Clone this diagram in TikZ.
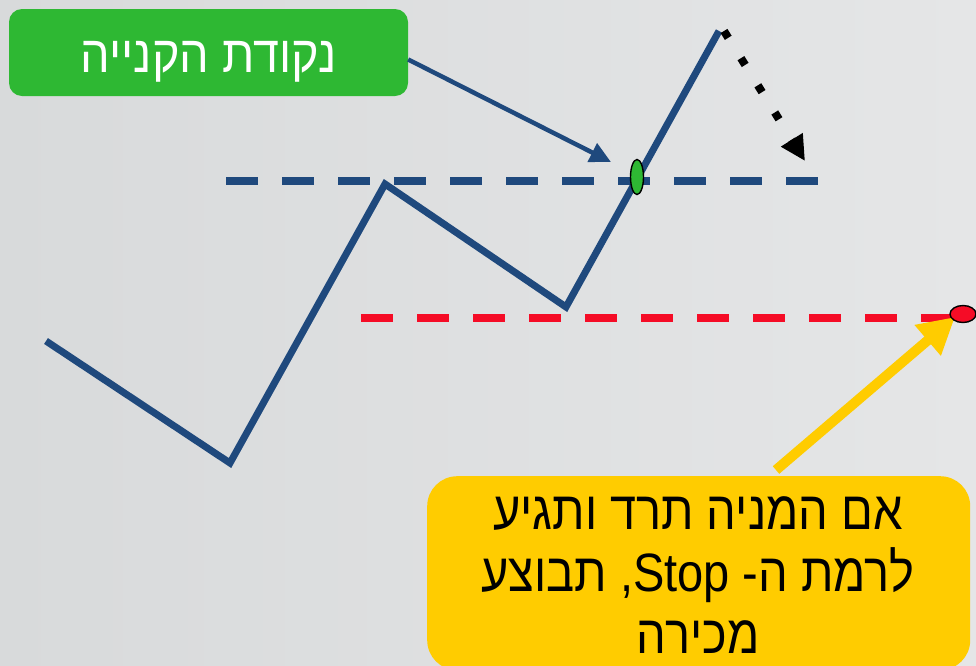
\documentclass[tikz,border=0pt]{standalone}
\usepackage{fontspec}
\usetikzlibrary{arrows.meta,shapes.geometric}
\TeXXeTstate=1
\newfontfamily\heb[Script=Hebrew,FakeStretch=0.9]{Liberation Sans}
\newfontfamily\hebn[Script=Hebrew,FakeStretch=0.87]{Liberation Sans}
\definecolor{bgleft}{RGB}{216,218,219}
\definecolor{bgright}{RGB}{229,230,231}
\definecolor{greenc}{RGB}{46,184,51}
\definecolor{bluec}{RGB}{31,73,125}
\definecolor{redc}{RGB}{245,12,38}
\definecolor{yellowc}{RGB}{255,204,0}
\tikzset{
  pricepath/.style={draw=bluec,line width=7pt,line join=miter},
  leveldash/.style={line width=8pt,dash pattern=on 32pt off 24pt},
  labelbox/.style={rounded corners=13pt,fill=greenc,inner sep=0pt},
  notebox/.style={rounded corners=30pt,fill=yellowc,inner sep=0pt},
  marker/.style={ellipse,draw=black,line width=1.4pt,inner sep=0pt},
  pointer/.style={draw=bluec,line width=4.5pt,-{Triangle[length=21pt,width=20pt]}},
  fallarrow/.style={draw=black,line width=8pt,dash pattern=on 8pt off 24pt,-{Triangle[length=25pt,width=24pt]}},
  stoparrow/.style={draw=yellowc,line width=10pt,-{Triangle[length=36pt,width=38pt]}},
  hebtext/.style={font=\hebn\fontsize{54}{62}\selectfont,inner sep=0pt,anchor=base}
}
\begin{document}
\begin{tikzpicture}[x=1pt,y=-1pt]
\shade[left color=bgleft,right color=bgright] (0,0) rectangle (976,665);
\useasboundingbox (0,0) rectangle (976,665);
% level lines
\draw[leveldash,draw=bluec] (226,181) -- (818,181);
\draw[leveldash,draw=redc] (361,318) -- (953,318);
% price path
\coordinate (p0) at (46,341);
\coordinate (p1) at (230,463);
\coordinate (p2) at (385,184);
\coordinate (p3) at (566,307);
\coordinate (p4) at (719,31);
\draw[pricepath] (p0) -- (p1) -- (p2) -- (p3) -- (p4);
% falling dotted arrow
\coordinate (dstart) at (724,31);
\coordinate (dend) at (805,161);
\draw[fallarrow] (dstart) -- (dend);
% green label
\node[labelbox,minimum width=399pt,minimum height=87pt,text=white,
  font=\heb\fontsize{52}{60}\selectfont,text height=40pt,text depth=0pt]
  (buy) at (208.5,52.5) {\beginR נקודת הקנייה\endR};
\coordinate (entryarr) at (611,162);
\draw[pointer] ([yshift=-7pt]buy.east) -- (entryarr);
\node[marker,fill=greenc,minimum width=13pt,minimum height=35pt] (entry) at (637,177) {};
% yellow note
\node[notebox,minimum width=543pt,minimum height=194pt,anchor=north west] (note) at (427,476) {};
\coordinate (ntail) at (776,470);
\coordinate (ntip) at (955,317);
\draw[stoparrow] (ntail) -- (ntip);
\node[marker,fill=redc,minimum width=26pt,minimum height=17pt] (stop) at (963,314) {};
\node[hebtext] (t1) at (698,529) {\beginR אם המניה תרד ותגיע\endR};
\node[hebtext] (t2) at (698,591) {\beginR לרמת ה\kern0pt- Stop\kern0pt, תבוצע\endR};
\node[hebtext] (t3) at (698,653) {\beginR מכירה\endR};
\end{tikzpicture}
\end{document}
